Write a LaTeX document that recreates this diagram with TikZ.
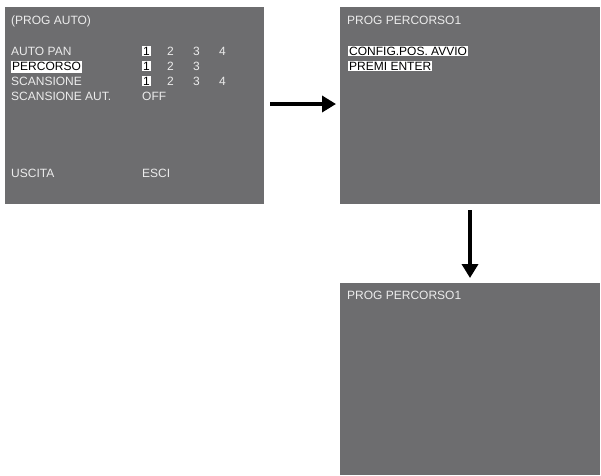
\documentclass[tikz,border=0pt]{standalone}
\usepackage{fontspec}
\setmainfont{Liberation Sans}
\usetikzlibrary{arrows.meta}
\definecolor{scr}{HTML}{6D6D6F}
\definecolor{txt}{HTML}{ECECEC}
\begin{document}
\begin{tikzpicture}[x=1pt,y=-1pt,
  lbl/.style={anchor=base west,inner sep=0pt,text=txt,font=\fontsize{12}{12}\selectfont},
  hil/.style={anchor=base west,inner xsep=1pt,inner ysep=1pt,fill=white,text=black,font=\fontsize{12}{12}\selectfont},
  screen/.style={fill=scr,draw=none},
  arr/.style={line width=4pt,-{Triangle[length=14pt,width=16pt]}}]
\useasboundingbox (0,0) rectangle (601,475);
\fill[screen] (5,7) rectangle (264,204);
\fill[screen] (340,7) rectangle (600,204);
\fill[screen] (340,283) rectangle (600,475);
% panel 1
\node[lbl] (t1) at (11,24) {(PROG AUTO)};
\node[lbl] (a1) at (11,55) {AUTO PAN};
\node[hil,text depth=2pt] (a2) at (11,70) {PERCORSO\hspace{3pt}};
\node[lbl] (a3) at (11,85) {SCANSIONE};
\node[lbl] (a4) at (11,100) {SCANSIONE AUT.};
\foreach \r/\y in {1/55,2/70,3/85}{
  \node[hil,inner xsep=1.5pt] (n\r1) at (141.5,\y) {1};
  \node[lbl] (n\r2) at (167,\y) {2};
  \node[lbl] (n\r3) at (193,\y) {3};
}
\node[lbl] (n14) at (219,55) {4};
\node[lbl] (n34) at (219,85) {4};
\node[lbl] (off) at (142,100) {OFF};
\node[lbl] (u1) at (11,177) {USCITA};
\node[lbl] (u2) at (142,177) {ESCI};
% panel 2
\node[lbl] (t2) at (347,24) {PROG PERCORSO1};
\node[hil] (c1) at (348,55) {CONFIG.POS. AVVIO\hspace{10pt}};
\node[hil] (c2) at (348,70) {PREMI ENTER\hspace{1pt}};
% panel 3
\node[lbl] (t3) at (347,299) {PROG PERCORSO1};
% arrows
\coordinate (r0) at (270,104); \coordinate (r1) at (336,104);
\coordinate (d0) at (470,210); \coordinate (d1) at (470,278);
\draw[arr] (r0) -- (r1);
\draw[arr] (d0) -- (d1);
\end{tikzpicture}
\end{document}
